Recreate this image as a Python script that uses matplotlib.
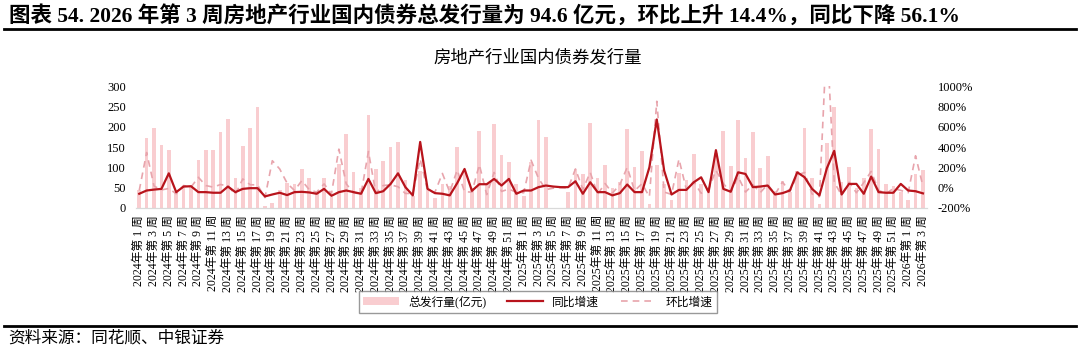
# Imports
import numpy
import matplotlib
matplotlib.use('Agg')
import matplotlib.pyplot as plt
from matplotlib.ticker import FuncFormatter


######################################################################
# Data
######################################################################

years = [2024, 2025, 2026]
weeks_per_year = [52, 52, 3]

# Total issuance (100 million yuan)
issuance_2024 = [45, 171, 198, 154, 142, 40, 52, 55, 117, 142,
                 143, 188, 220, 73, 152, 196, 248, 4, 13, 45,
                 62, 60, 95, 75, 40, 75, 28, 108, 183, 88,
                 48, 228, 96, 116, 149, 163, 70, 30, 90, 45,
                 25, 60, 55, 150, 90, 50, 190, 60, 207, 130,
                 112, 60]
issuance_2025 = [30, 112, 215.5, 175, 0, 0, 40, 95, 84, 208,
                 75, 106, 50, 65, 195, 100, 139, 11, 106, 60,
                 20, 85, 70, 134, 60, 50, 135, 190, 104, 216,
                 124, 188, 98, 128, 43, 67, 40, 90, 198, 75,
                 10, 161, 248, 65, 100, 50, 75, 195, 145, 60,
                 55, 40]
issuance_2026 = [20, 82.7, 94.6]

# Year-on-year growth (%)
yoy_2024 = [-60, -28, -19, -12, 141, -44, 11, 14, -44, -44,
            -50, -50, 11, -44, -12, -5, -5, -86, -67, -50,
            -73, -44, -41, -47, -60, -12, -80, -44, -28, -44,
            -60, 86, -54, -35, 37, 141, 5, -76, 450, -12,
            -54, -60, -76, 44, 184, -31, 34, 34, 86, 21,
            86, -60]
yoy_2025 = [-28, -28, 5, 21, 11, 5, 5, 63, -60, 53,
            -44, -44, -76, -54, 31, -44, -44, 200, 671, 167,
            -67, -22, -22, 53, 102, -44, 369, -12, -40, 151,
            135, 5, 11, 21, -67, -54, -28, 151, 102, -12,
            -76, 190, 362, -67, 37, 37, -60, 109, -44, -50,
            -50, 37]
yoy_2026 = [-28, -35, -56.1]

# Week-on-week growth (%)
mom_2024 = [-28, 346, 16, -22, -8, -60, 21, 5, 102, 21,
            5, 31, 17, -67, 86, 29, 27, -98, 265, 184,
            44, -28, 70, -21, -44, 37, -60, 379, 37, -52,
            -60, 356, -55, 21, 28, 9, -57, -57, 281, -30,
            -44, 140, -44, 173, -40, -44, 226, -68, 150, -37,
            -14, -46]
mom_2025 = [-50, 270, 92, -19, -5, 0, -5, 184, -16, 150,
            -64, 41, -53, 30, 200, -30, 39, -89, 850, -43,
            -67, 281, -18, 60, -55, -17, 170, 41, -45, 108,
            -43, 30, -48, 31, -66, 56, -40, 125, 150, -62,
            -90, 1500, 54, -74, 54, -50, 50, 160, -26, -59,
            -8, -27]
mom_2026 = [-50, 314, 14.4]

issuance = issuance_2024 + issuance_2025 + issuance_2026
yoy = yoy_2024 + yoy_2025 + yoy_2026
mom = mom_2024 + mom_2025 + mom_2026

week_labels = []
for year, n_weeks in zip(years, weeks_per_year):
    for week in range(1, n_weeks + 1):
        week_labels.append(f'{year}年第 {week} 周')

x = numpy.arange(len(issuance))


######################################################################
# Style
######################################################################

cjk = ['Liberation Serif', 'Noto Sans CJK SC']
plt.rcParams['font.family'] = cjk

bar_color = '#F9CDD0'
yoy_color = '#B8141C'
mom_color = '#E8A4AC'


######################################################################
# Figure
######################################################################

fig = plt.figure(figsize=(10.8, 3.57), dpi=100)

fig.text(
    0.008, 0.955,
    '图表 54. 2026 年第 3 周房地产行业国内债券总发行量为 94.6 亿元，'
    '环比上升 14.4%，同比下降 56.1%',
    fontsize=15.5,
    fontweight='bold',
    ha='left',
    va='center'
)
fig.add_artist(plt.Line2D([0.004, 0.996], [0.918, 0.918],
                          color='black', linewidth=2))
fig.add_artist(plt.Line2D([0.004, 0.996], [0.088, 0.088],
                          color='black', linewidth=2))

fig.text(
    0.498, 0.838,
    '房地产行业国内债券发行量',
    fontsize=12.5,
    ha='center',
    va='center'
)

fig.text(
    0.008, 0.052,
    '资料来源：同花顺、中银证券',
    fontsize=12,
    style='italic',
    ha='left',
    va='center'
)

ax = fig.add_axes([0.1255, 0.4174, 0.7325, 0.3416])
ax2 = ax.twinx()

bars = ax.bar(x, issuance, width=0.5, color=bar_color,
              label='总发行量(亿元)', zorder=1)
line_yoy, = ax2.plot(x, yoy, color=yoy_color, linewidth=1.6,
                     label='同比增速', zorder=3)
line_mom, = ax2.plot(x, mom, color=mom_color, linewidth=1.2,
                     linestyle=(0, (4, 3)), label='环比增速', zorder=2)

ax.set_xlim(-0.5, len(issuance) - 0.5)
ax.set_ylim(0, 300)
ax.set_yticks(numpy.arange(0, 301, 50))
ax2.set_ylim(-200, 1000)
ax2.set_yticks(numpy.arange(-200, 1001, 200))
ax2.yaxis.set_major_formatter(FuncFormatter(lambda v, p: f'{v:.0f}%'))

ax.set_xticks(x[::2])
ax.set_xticklabels(week_labels[::2], rotation=90)

for a in (ax, ax2):
    for side in ('top', 'left', 'right'):
        a.spines[side].set_visible(False)
    a.spines['bottom'].set_color('#D9D9D9')
    a.tick_params(length=0, labelsize=9)

ax.tick_params(axis='y', pad=7)
ax.tick_params(axis='x', pad=5, labelsize=8.5)
ax2.tick_params(axis='y', pad=8)

fig.legend(
    handles=[bars, line_yoy, line_mom],
    loc='center',
    bbox_to_anchor=(0.498, 0.154),
    ncol=3,
    fontsize=8.5,
    frameon=True,
    fancybox=False,
    edgecolor='#808080',
    handlelength=3,
    columnspacing=1.8,
    borderpad=0.35
)

plt.savefig('out.png', dpi=100)
plt.close()
